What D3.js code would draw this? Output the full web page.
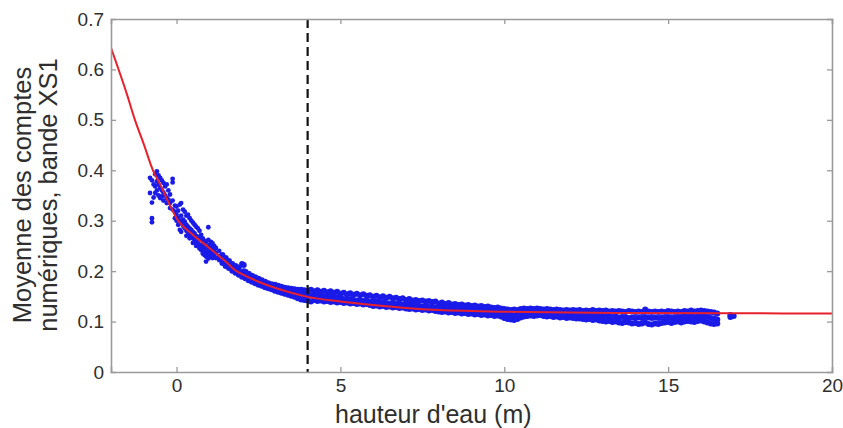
<!DOCTYPE html>
<html>
<head>
<meta charset="utf-8">
<script src="https://cdn.jsdelivr.net/npm/d3@7/dist/d3.min.js"></script>
<style>
  html, body { margin: 0; padding: 0; background: #fff; }
  svg { display: block; }
  text { font-family: "Liberation Sans", Arial, sans-serif; }
</style>
</head>
<body>
<svg id="chart" width="843" height="428"></svg>
<script>
// ---- data ----
const xTicks = [0, 5, 10, 15, 20];
const yTicks = [0, 0.1, 0.2, 0.3, 0.4, 0.5, 0.6, 0.7];
const yTickLabels = ["0", "0.1", "0.2", "0.3", "0.4", "0.5", "0.6", "0.7"];
const xTitle = "hauteur d'eau (m)";
const yTitle = ["Moyenne des comptes", "numériques, bande XS1"];
const thresholdX = 4;

// fitted red curve (x, y)
const curveX = [-2, -1.5, -1.27, -1, -0.72, -0.5, -0.25, 0, 0.5, 1, 1.5, 1.83, 2, 2.5, 3, 3.5, 4, 5, 6, 7, 8, 9, 10, 12, 14, 17, 20];
const curveY = [0.643, 0.548, 0.5, 0.452, 0.40, 0.372, 0.337, 0.305, 0.272, 0.246, 0.219, 0.200, 0.194, 0.179, 0.167, 0.157, 0.149, 0.140, 0.133, 0.127, 0.123, 0.121, 0.1195, 0.118, 0.117, 0.1165, 0.116];

// scatter: each row = [x, y1, y2, ...]
const scatterRows = [
  [-0.81, 0.385, 0.355], [-0.75, 0.380, 0.336, 0.305, 0.297], [-0.70, 0.372, 0.346],
  [-0.65, 0.392, 0.368, 0.355], [-0.60, 0.398, 0.378, 0.360], [-0.55, 0.390, 0.372, 0.350],
  [-0.50, 0.385, 0.365, 0.345], [-0.45, 0.380, 0.360, 0.348], [-0.40, 0.375, 0.356, 0.340],
  [-0.35, 0.368, 0.350], [-0.30, 0.372, 0.345, 0.335], [-0.25, 0.360, 0.342],
  [-0.20, 0.352, 0.335, 0.325], [-0.12, 0.383, 0.376, 0.340, 0.322], [-0.05, 0.330, 0.318, 0.305],
  [0.00, 0.328, 0.312, 0.300], [0.05, 0.320, 0.305, 0.292], [0.10, 0.332, 0.300, 0.282],
  [0.14, 0.335, 0.310, 0.295, 0.278], [0.20, 0.322, 0.302, 0.290], [0.25, 0.318, 0.298, 0.285],
  [0.30, 0.310, 0.292, 0.280, 0.270], [0.35, 0.312, 0.288, 0.276], [0.40, 0.305, 0.285, 0.272, 0.265],
  [0.45, 0.300, 0.282, 0.270], [0.50, 0.296, 0.278, 0.265, 0.256], [0.55, 0.292, 0.275, 0.262],
  [0.60, 0.288, 0.270, 0.258, 0.250], [0.65, 0.285, 0.268, 0.255], [0.70, 0.280, 0.264, 0.252, 0.245],
  [0.75, 0.272, 0.262, 0.250, 0.242], [0.80, 0.265, 0.255, 0.245, 0.235], [0.85, 0.260, 0.250, 0.240, 0.232],
  [0.90, 0.258, 0.248, 0.238, 0.229, 0.219], [0.97, 0.287, 0.262, 0.245, 0.235, 0.225],
  [1.00, 0.252, 0.242, 0.232], [1.05, 0.258, 0.248, 0.238, 0.228], [1.10, 0.255, 0.245, 0.235, 0.226],
  [1.15, 0.250, 0.240, 0.232], [1.20, 0.246, 0.236, 0.226], [1.30, 0.240, 0.230, 0.222],
  [1.40, 0.232, 0.224, 0.216], [1.50, 0.226, 0.218, 0.210], [1.60, 0.220, 0.212, 0.206],
  [1.70, 0.214, 0.207, 0.201], [1.80, 0.210, 0.203, 0.197], [1.90, 0.207, 0.200, 0.193],
  [2.00, 0.214, 0.196, 0.189], [2.05, 0.212, 0.200], [2.10, 0.199, 0.192, 0.186], [2.20, 0.195, 0.188, 0.182],
  [2.30, 0.191, 0.184, 0.179], [2.40, 0.188, 0.181, 0.176], [2.50, 0.185, 0.178, 0.173],
  [2.60, 0.182, 0.175, 0.171], [2.70, 0.179, 0.173, 0.168], [2.80, 0.176, 0.170, 0.166],
  [2.90, 0.174, 0.168, 0.164], [3.00, 0.173, 0.166, 0.161], [3.10, 0.171, 0.164, 0.159],
  [3.20, 0.169, 0.162, 0.157], [3.30, 0.167, 0.160, 0.155], [3.40, 0.166, 0.158, 0.153],
  [3.50, 0.165, 0.157, 0.151], [3.60, 0.164, 0.156, 0.149], [3.70, 0.163, 0.154, 0.146],
  [3.80, 0.163, 0.153, 0.144], [3.90, 0.162, 0.152, 0.143],
  [4.0, .161, .151, .142], [4.1, .163, .152, .140], [4.2, .160, .150, .143], [4.3, .162, .151, .141],
  [4.4, .159, .149, .142], [4.5, .161, .150, .140], [4.6, .158, .148, .141], [4.7, .160, .149, .139],
  [4.8, .157, .147, .140], [4.9, .159, .148, .138], [5.0, .155, .146, .139], [5.1, .157, .145, .137],
  [5.2, .154, .144, .138], [5.3, .156, .145, .136], [5.4, .153, .143, .137], [5.5, .155, .142, .135],
  [5.6, .152, .143, .136], [5.7, .154, .141, .134], [5.8, .151, .142, .135], [5.9, .152, .140, .133],
  [6.0, .149, .139, .131], [6.1, .151, .140, .132], [6.2, .148, .138, .130], [6.3, .150, .139, .131],
  [6.4, .147, .137, .129], [6.5, .149, .136, .130], [6.6, .146, .137, .128], [6.7, .147, .135, .129],
  [6.8, .145, .136, .127], [6.9, .146, .134, .128], [7.0, .143, .133, .126], [7.1, .145, .134, .125],
  [7.2, .142, .132, .126], [7.3, .143, .133, .124], [7.4, .141, .131, .125], [7.5, .142, .130, .123],
  [7.6, .140, .131, .124], [7.7, .141, .129, .122], [7.8, .139, .130, .123], [7.9, .140, .128, .121],
  [8.0, .136, .127, .120], [8.1, .138, .128, .119], [8.2, .135, .126, .120], [8.3, .137, .127, .118],
  [8.4, .134, .125, .119], [8.5, .135, .126, .117], [8.6, .133, .124, .118], [8.7, .134, .125, .116],
  [8.8, .132, .123, .117], [8.9, .133, .124, .115], [9.0, .131, .122, .116], [9.1, .132, .123, .114],
  [9.2, .130, .121, .115], [9.3, .131, .122, .113], [9.4, .129, .120, .114], [9.5, .130, .121, .112],
  [9.6, .128, .119, .113], [9.7, .127, .118, .111], [9.8, .128, .119, .112], [9.9, .126, .117, .110],
  [10.0, .125, .115, .107], [10.1, .124, .114, .105], [10.2, .123, .113, .104], [10.3, .124, .112, .103],
  [10.4, .123, .114, .105], [10.5, .125, .116, .108], [10.6, .126, .117, .110], [10.7, .125, .118, .111],
  [10.8, .126, .117, .112], [10.9, .125, .118, .111], [11.0, .126, .117, .112], [11.1, .125, .118, .113],
  [11.2, .124, .117, .111], [11.3, .125, .116, .110], [11.4, .124, .117, .111], [11.5, .123, .116, .109],
  [11.6, .124, .115, .110], [11.7, .123, .116, .108], [11.8, .122, .115, .109], [11.9, .123, .114, .107],
  [12.0, .122, .115, .108], [12.1, .123, .114, .107], [12.2, .122, .113, .106], [12.3, .123, .114, .106],
  [12.4, .121, .113, .105], [12.5, .122, .112, .104], [12.6, .121, .113, .105], [12.7, .123, .112, .103],
  [12.8, .121, .111, .104], [12.9, .122, .112, .102], [13.0, .121, .110, .101], [13.1, .122, .111, .100],
  [13.2, .120, .110, .101], [13.3, .121, .109, .099], [13.4, .120, .110, .100], [13.5, .121, .108, .098],
  [13.6, .120, .109, .097], [13.7, .119, .108, .099], [13.8, .121, .107, .098], [13.9, .120, .108, .096],
  [14.0, .119, .107, .097], [14.1, .120, .108, .095], [14.2, .119, .107, .096], [14.3, .124, .109, .098],
  [14.4, .120, .108, .095], [14.5, .119, .107, .094], [14.6, .120, .108, .096], [14.7, .119, .107, .095],
  [14.8, .120, .108, .097], [14.9, .119, .107, .098], [15.0, .121, .109, .099], [15.1, .120, .108, .097],
  [15.2, .119, .107, .099], [15.3, .120, .109, .100], [15.4, .119, .108, .098], [15.5, .121, .110, .100],
  [15.6, .120, .109, .101], [15.7, .122, .110, .100], [15.8, .120, .109, .099], [15.9, .121, .110, .101],
  [16.0, .122, .111, .102], [16.1, .121, .110, .100], [16.2, .120, .109, .098], [16.3, .119, .107, .096],
  [16.4, .118, .106, .095], [16.5, .116, .104, .096], [16.9, .113, .109], [17.0, .111]
];

// ---- drawing ----
const W = 843, H = 428;
const margin = { left: 111, right: 11, top: 19, bottom: 56 };
const svg = d3.select("#chart");

const x = d3.scaleLinear().domain([-2, 20]).range([margin.left, W - margin.right]);
const y = d3.scaleLinear().domain([0, 0.7]).range([H - margin.bottom, margin.top]);

const axisColor = "#9a9a9a";
const textColor = "#2e2e2e";

const points = [];
scatterRows.forEach(r => { for (let i = 1; i < r.length; i++) points.push([r[0], r[i]]); });

const clipId = "plotclip";
svg.append("clipPath").attr("id", clipId)
  .append("rect").attr("x", margin.left).attr("y", margin.top)
  .attr("width", W - margin.left - margin.right).attr("height", H - margin.top - margin.bottom);

const plot = svg.append("g").attr("clip-path", `url(#${clipId})`);

// scatter
plot.append("g").selectAll("circle").data(points).join("circle")
  .attr("cx", d => x(d[0])).attr("cy", d => y(d[1]))
  .attr("r", d => d[0] > 1.3 ? 3.0 : 2.4).attr("fill", "#1b1be8");

// dashed threshold
plot.append("line")
  .attr("x1", x(thresholdX)).attr("x2", x(thresholdX))
  .attr("y1", y(0.7)).attr("y2", y(0))
  .attr("stroke", "#111").attr("stroke-width", 2.2).attr("stroke-dasharray", "9,5");

// red curve
const curvePts = curveX.map((v, i) => [v, curveY[i]]);
plot.append("path").datum(curvePts)
  .attr("d", d3.line().x(d => x(d[0])).y(d => y(d[1])).curve(d3.curveMonotoneX))
  .attr("fill", "none").attr("stroke", "#e8202a").attr("stroke-width", 2);

// axes (MATLAB style box with inward ticks)
const tickLen = 5;
const axB = svg.append("g").attr("transform", `translate(0,${y(0)})`)
  .call(d3.axisBottom(x).tickValues(xTicks).tickSize(-tickLen).tickPadding(7).tickFormat(d3.format("d")));
const axT = svg.append("g").attr("transform", `translate(0,${y(0.7)})`)
  .call(d3.axisTop(x).tickValues(xTicks).tickSize(-tickLen).tickFormat(""));
const axL = svg.append("g").attr("transform", `translate(${x(-2)},0)`)
  .call(d3.axisLeft(y).tickValues(yTicks).tickSize(-tickLen).tickPadding(7).tickFormat((d, i) => yTickLabels[i]));
const axR = svg.append("g").attr("transform", `translate(${x(20)},0)`)
  .call(d3.axisRight(y).tickValues(yTicks).tickSize(-tickLen).tickFormat(""));

[axB, axT, axL, axR].forEach(g => {
  g.select(".domain").attr("stroke", axisColor).attr("stroke-width", 1.6);
  g.selectAll(".tick line").attr("stroke", axisColor).attr("stroke-width", 1.3);
  g.selectAll(".tick text").attr("fill", textColor).style("font-size", "19px")
    .style("font-family", "'Liberation Sans', Arial, sans-serif");
});
// hide the edge-coinciding ticks
axT.selectAll(".tick").filter(d => d === 20).select("line").remove();
axB.selectAll(".tick").filter(d => d === 20).select("line").remove();
axL.selectAll(".tick").filter(d => d === 0 || d === 0.7).select("line").remove();
axR.selectAll(".tick").filter(d => d === 0 || d === 0.7).select("line").remove();

// axis titles
svg.append("text")
  .attr("x", 335).attr("y", 423)
  .attr("text-anchor", "start").attr("fill", textColor)
  .style("font-size", "25px").text(xTitle);

const yMid = 195;
yTitle.forEach((t, i) => {
  svg.append("text")
    .attr("transform", `translate(${31 + i * 26},${yMid}) rotate(-90)`)
    .attr("text-anchor", "middle").attr("fill", textColor)
    .style("font-size", "25.5px").text(t);
});
</script>
</body>
</html>
